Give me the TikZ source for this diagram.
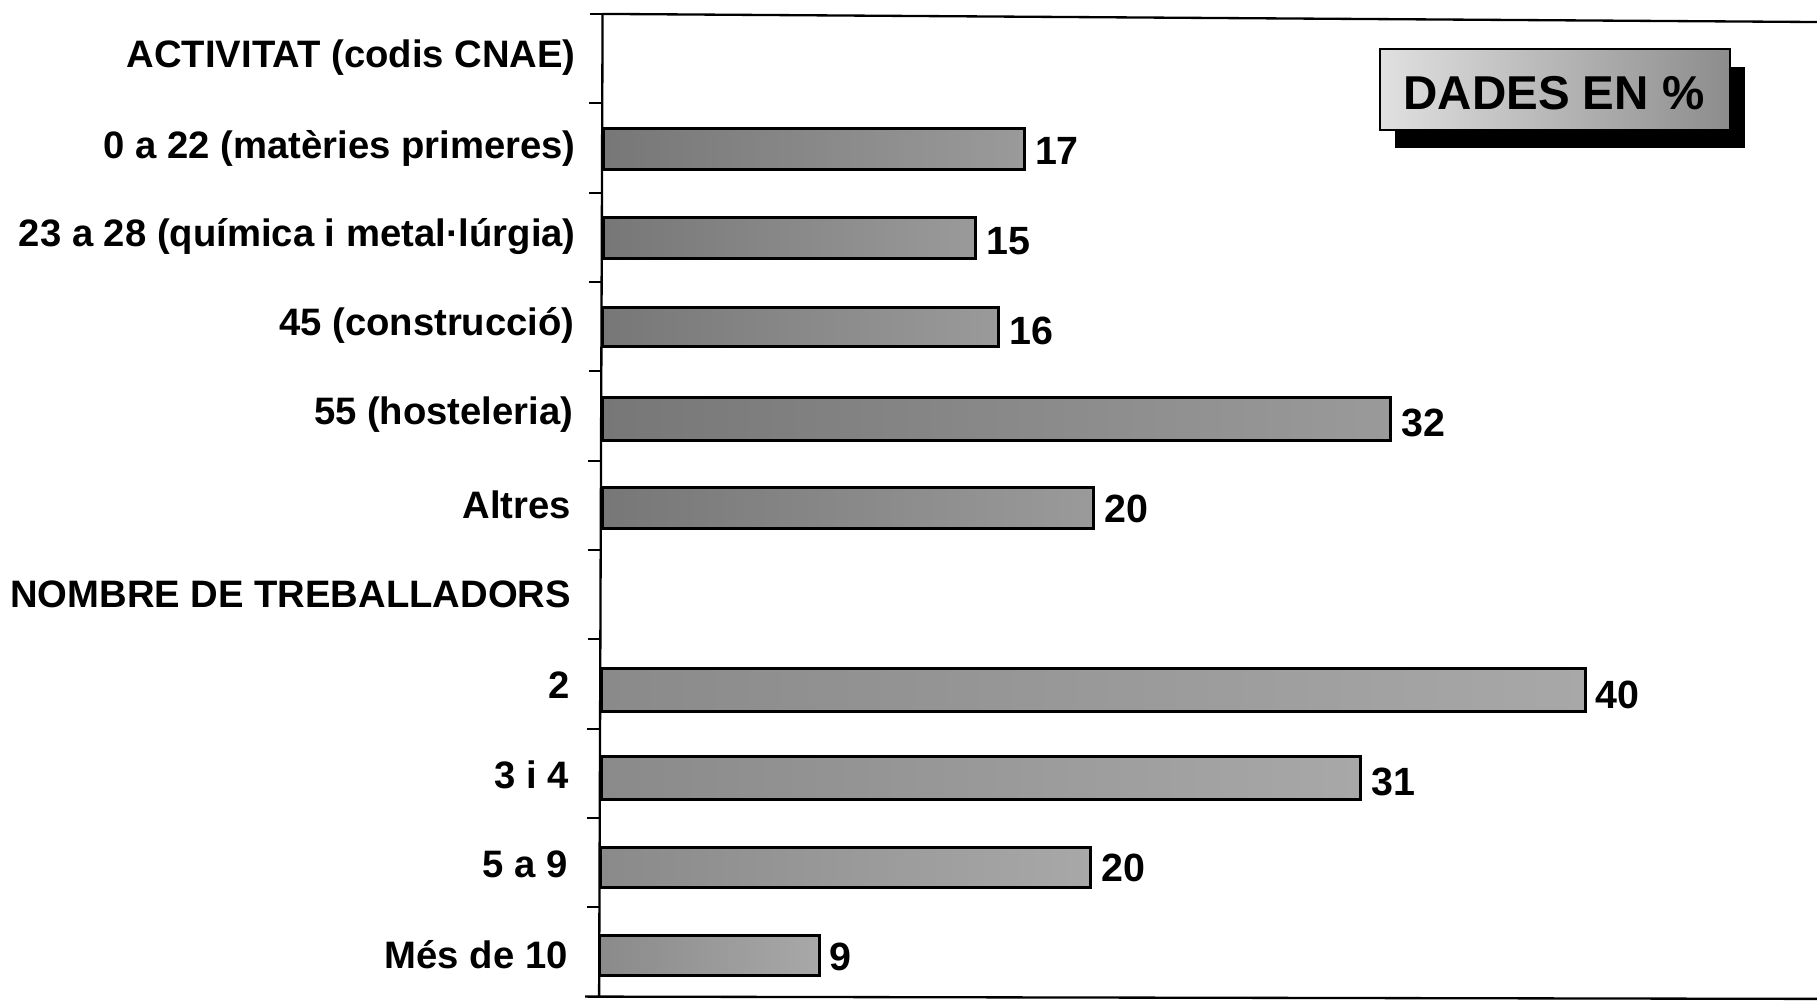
\documentclass[tikz,border=0pt]{standalone}
\usepackage{fontspec}
\setmainfont{Liberation Sans}
\usetikzlibrary{calc}
\definecolor{barA}{HTML}{777777}
\definecolor{barB}{HTML}{9A9A9A}
\definecolor{barC}{HTML}{8A8A8A}
\definecolor{barD}{HTML}{A8A8A8}
\begin{document}
\begin{tikzpicture}[x=1pt,y=-1pt,
  lab/.style={anchor=east,inner sep=0pt,font=\fontsize{33}{38}\selectfont\bfseries},
  val/.style={anchor=west,inner sep=0pt,font=\fontsize{34}{38}\selectfont\bfseries},
  bar/.style={draw=black,line width=2.6pt,left color=barA,right color=barB},
  barw/.style={draw=black,line width=2.6pt,left color=barC,right color=barD},
  axis/.style={line width=2pt},
  tick/.style={line width=1.6pt}]
\useasboundingbox (0,0) rectangle (1568,868);
% axes
\coordinate (top0) at (520,12);
\coordinate (top1) at (1568,19);
\coordinate (bot0) at (505,860);
\coordinate (bot1) at (1568,862);
\coordinate (ax0) at (520,12);
\coordinate (ax1) at (517,861);
\draw[axis] (top0) -- (top1);
\draw[axis] (ax0) -- (ax1);
\draw[axis] (bot0) -- (bot1);
\foreach \k in {0,...,10}{
  \pgfmathsetmacro{\yy}{12+77.1*\k}
  \pgfmathsetmacro{\xx}{520-0.0035*\yy}
  \draw[tick] (\xx-11,\yy) -- (\xx,\yy);
}
% category labels
\node[lab] (l1) at (497,50) {ACTIVITAT (codis CNAE)};
\node[lab] (l2) at (497,128) {0 a 22 (matèries primeres)};
\node[lab] (l3) at (497,204) {23 a 28 (química i metal·lúrgia)};
\node[lab] (l4) at (496,281) {45 (construcció)};
\node[lab] (l5) at (495,358) {55 (hosteleria)};
\node[lab] (l6) at (493,436) {Altres};
\node[lab] (l7) at (493,513) {NOMBRE DE TREBALLADORS};
\node[lab] (l8) at (492,591) {2};
\node[lab] (l9) at (491,669) {3 i 4};
\node[lab] (l10) at (490,746) {5 a 9};
\node[lab] (l11) at (490,824) {Més de 10};
% bars
\draw[bar] (521,111) rectangle (884,146) coordinate (b2);
\draw[bar] (521,188) rectangle (842,223) coordinate (b3);
\draw[bar] (520,265) rectangle (862,299) coordinate (b4);
\draw[bar] (520,343) rectangle (1200,380) coordinate (b5);
\draw[bar] (520,421) rectangle (944,456) coordinate (b6);
\draw[barw] (519,577) rectangle (1368,614) coordinate (b8);
\draw[barw] (519,653) rectangle (1174,690) coordinate (b9);
\draw[barw] (518,731) rectangle (941,766) coordinate (b10);
\draw[barw] (517,807) rectangle (707,842) coordinate (b11);
% values
\node[val] (v2) at (893,130) {17};
\node[val] (v3) at (851,208) {15};
\node[val] (v4) at (871,286) {16};
\node[val] (v5) at (1209,365) {32};
\node[val] (v6) at (953,439) {20};
\node[val] (v8) at (1377,600) {40};
\node[val] (v9) at (1183,675) {31};
\node[val] (v10) at (950,749) {20};
\node[val] (v11) at (716,826) {9};
% DADES EN % box
\fill[black] (1204,58) rectangle (1506,128);
\draw[line width=1.8pt,left color=black!12,right color=black!45] (1191,42) rectangle (1493,112);
\node[inner sep=0pt,font=\fontsize{41}{46}\selectfont\bfseries] (dades) at (1341,80) {DADES EN \%};
\end{tikzpicture}
\end{document}
